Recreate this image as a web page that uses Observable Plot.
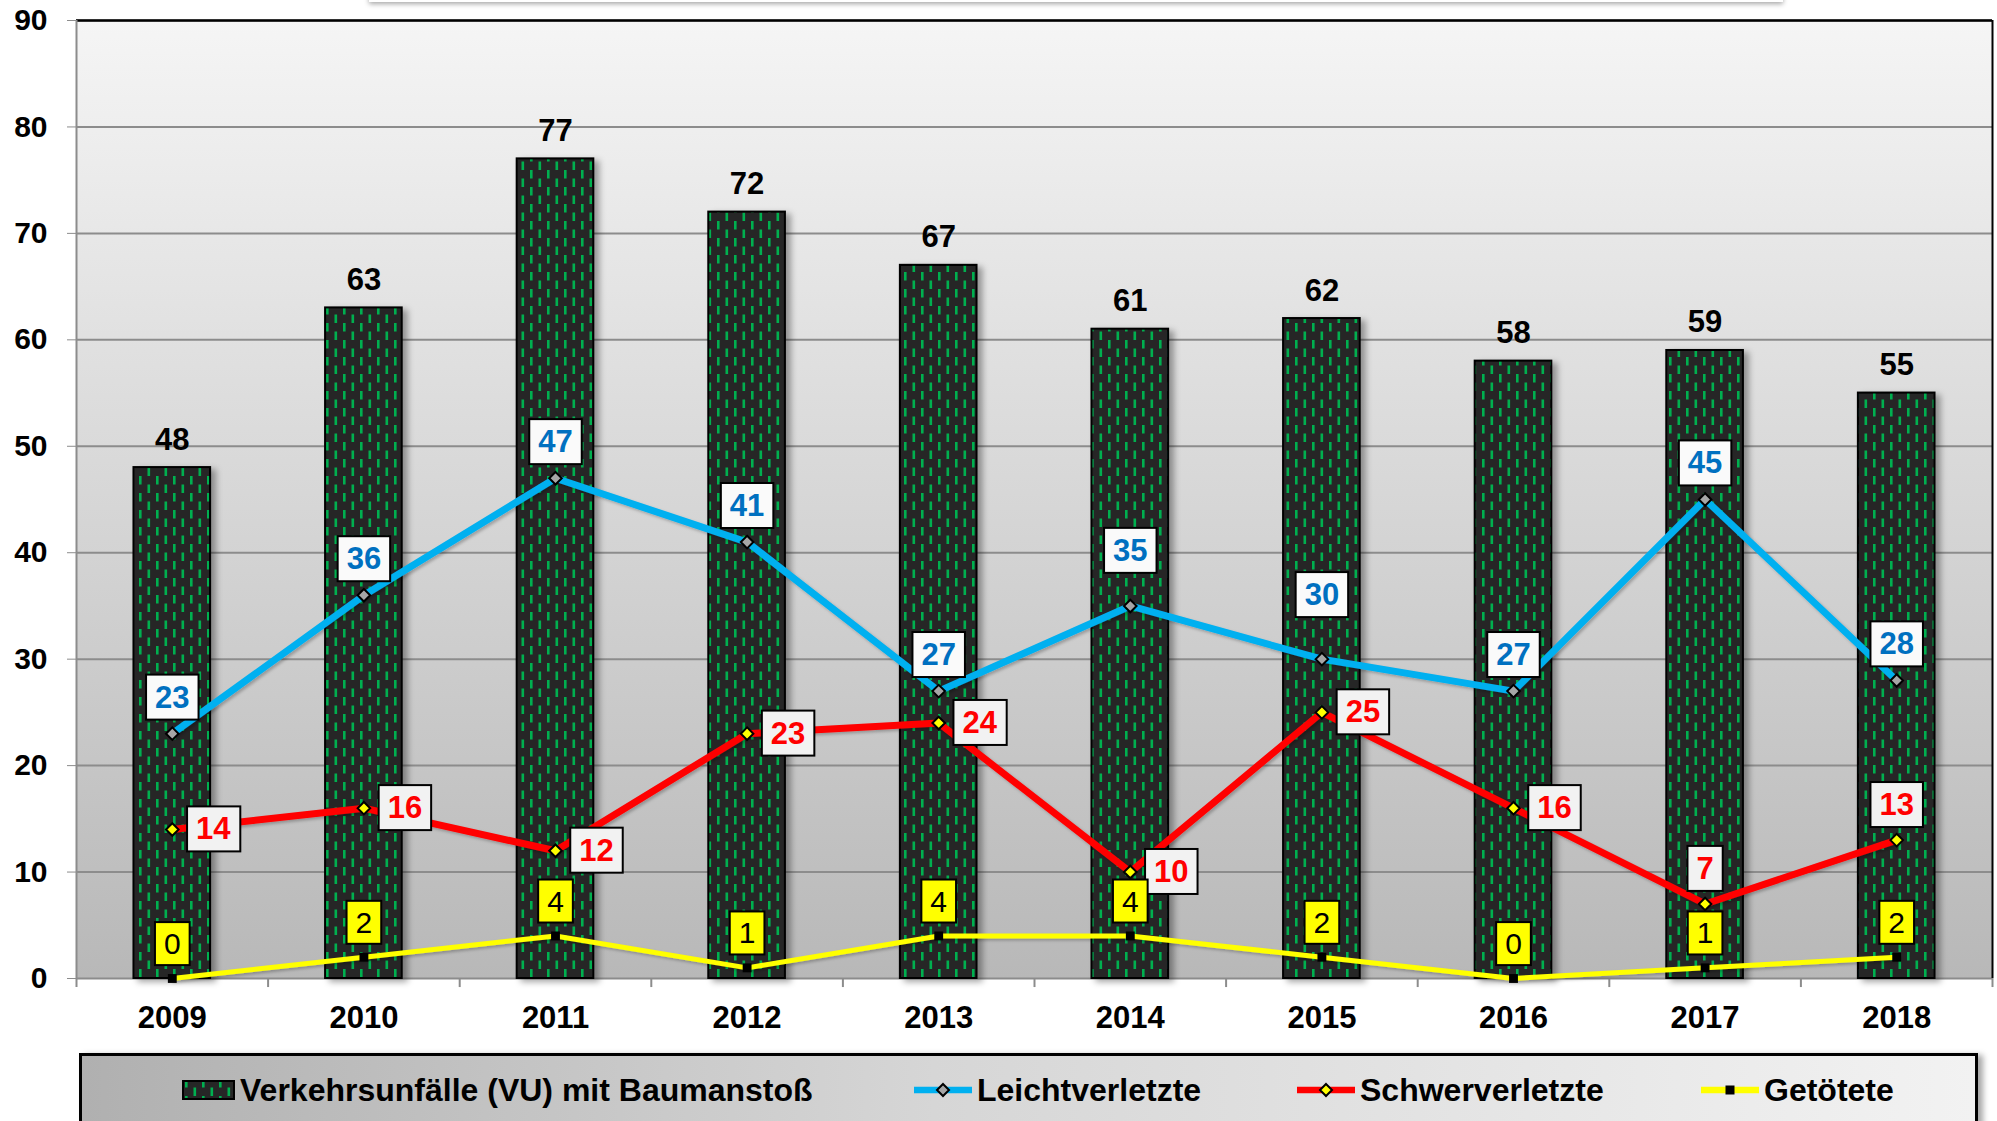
<!DOCTYPE html>
<html>
<head>
<meta charset="utf-8">
<script src="https://cdn.jsdelivr.net/npm/d3@7"></script>
<script src="https://cdn.jsdelivr.net/npm/@observablehq/plot@0.6"></script>
<style>
  html, body { margin: 0; padding: 0; background: #ffffff; }
  #wrap { position: relative; width: 1997px; height: 1121px; overflow: hidden; font-family: "Liberation Sans", Arial, sans-serif; }
  #titleShadow { position: absolute; left: 369px; width: 1414px; top: -14px; height: 16px; background: #ffffff; box-shadow: 0 2px 5px rgba(0,0,0,0.35); }
  #chart { position: absolute; left: 0; top: 0; }
  #legend { position: absolute; left: 79px; top: 1053px; width: 1899px; height: 110px; border: 3px solid #000; box-sizing: border-box;
            background: linear-gradient(to right, #b0b0b0, #d6d6d6 45%, #f2f2f2); box-shadow: 5px 2px 6px rgba(0,0,0,0.35); }
  .lg-item { position: absolute; top: 14px; height: 40px; display: flex; align-items: center; font-size: 32px; font-weight: bold; color: #000; white-space: nowrap; }
  .lg-item svg { margin-right: 5px; }
</style>
</head>
<body>
<div id="wrap">
  <div id="titleShadow"></div>
  <div id="chart"></div>
  <div id="legend"></div>
</div>
<script>
// ---------- data ----------
const years = ["2009", "2010", "2011", "2012", "2013", "2014", "2015", "2016", "2017", "2018"];
const unfaelle = [48, 63, 77, 72, 67, 61, 62, 58, 59, 55];
const leichtverletzte = [23, 36, 47, 41, 27, 35, 30, 27, 45, 28];
const schwerverletzte = [14, 16, 12, 23, 24, 10, 25, 16, 7, 13];
const getoetete = [0, 2, 4, 1, 4, 4, 2, 0, 1, 2];
const yTicks = [0, 10, 20, 30, 40, 50, 60, 70, 80, 90];
const seriesNames = ["Verkehrsunfälle (VU) mit Baumanstoß", "Leichtverletzte", "Schwerverletzte", "Getötete"];

const rows = years.map((year, i) => ({
  year,
  unfaelle: unfaelle[i],
  leicht: leichtverletzte[i],
  schwer: schwerverletzte[i],
  tot: getoetete[i]
}));

// ---------- layout / style ----------
const W = 1997, H = 1045, mL = 76, mR = 5, mT = 20, mB = 67;
const step = (W - mL - mR) / years.length;
const FONT = "Liberation Sans, Arial, sans-serif";
const BLUE = "#00b0f0", BLUE_TXT = "#0070c0", RED = "#ff0000", YEL = "#ffff00", GRID = "#8c8c8c";

const diamond = {
  draw(ctx, size) {
    const r = Math.sqrt(size / 2);
    ctx.moveTo(0, -r); ctx.lineTo(r, 0); ctx.lineTo(0, r); ctx.lineTo(-r, 0); ctx.closePath();
  }
};

// label placement (pixel offsets of boxes relative to the point)
const blueLift = {"2014": 55, "2015": 64};
const redAbove = new Set(["2017", "2018"]);

const lbl = {fontSize: 31, fontWeight: "bold", fontFamily: FONT};

const chart = Plot.plot({
  width: W, height: H,
  marginLeft: mL, marginRight: mR, marginTop: mT, marginBottom: mB,
  style: {fontFamily: FONT, fontSize: "31px", fontWeight: "bold", color: "#000", background: "transparent", overflow: "visible"},
  x: {domain: years, paddingInner: 0.6, paddingOuter: 0.3, round: false, tickSize: 0, tickPadding: 27, label: null},
  y: {domain: [0, 90], ticks: yTicks, tickSize: 9, tickPadding: 20, label: null},
  marks: [
    Plot.frame({fill: "url(#bgGrad)", stroke: "none"}),
    Plot.ruleY(yTicks, {stroke: GRID, strokeWidth: 2}),
    Plot.ruleY([90], {stroke: "#000", strokeWidth: 2.5}),
    Plot.ruleX([years[years.length - 1]], {dx: step / 2, y1: 0, y2: 90, stroke: "#000", strokeWidth: 2}),
    Plot.ruleX([years[0]], {dx: -step / 2, y1: -0.85, y2: 90, stroke: GRID, strokeWidth: 2}),
    Plot.ruleX(years, {dx: step / 2, y1: 0, y2: -0.85, stroke: GRID, strokeWidth: 2}),
    Plot.barY(rows, {x: "year", y: "unfaelle", fill: "url(#barPattern)", stroke: "#000", strokeWidth: 2, ariaDescription: "bars"}),
    Plot.text(rows, {x: "year", y: "unfaelle", text: d => String(d.unfaelle), dy: -18, lineAnchor: "bottom", fill: "#000", ...lbl}),
    Plot.line(rows, {x: "year", y: "tot", stroke: YEL, strokeWidth: 5, ariaDescription: "line-yellow"}),
    Plot.line(rows, {x: "year", y: "leicht", stroke: BLUE, strokeWidth: 7, ariaDescription: "line-blue"}),
    Plot.line(rows, {x: "year", y: "schwer", stroke: RED, strokeWidth: 7, ariaDescription: "line-red"}),
    Plot.dot(rows, {x: "year", y: "leicht", symbol: diamond, r: 5, fill: "#a6a6a6", stroke: "#000", strokeWidth: 2}),
    Plot.dot(rows, {x: "year", y: "schwer", symbol: diamond, r: 5, fill: YEL, stroke: "#000", strokeWidth: 2}),
    Plot.dot(rows, {x: "year", y: "tot", symbol: "square", r: 5, fill: "#000", stroke: "none"}),
    // blue labels
    Plot.text(rows.filter(d => !(d.year in blueLift)), {x: "year", y: "leicht", text: d => String(d.leicht), dy: -36, lineAnchor: "middle", fill: BLUE_TXT, ariaDescription: "box-blue", ...lbl}),
    ...Object.entries(blueLift).map(([yr, lift]) =>
      Plot.text(rows.filter(d => d.year === yr), {x: "year", y: "leicht", text: d => String(d.leicht), dy: -lift, lineAnchor: "middle", fill: BLUE_TXT, ariaDescription: "box-blue", ...lbl})),
    // red labels
    Plot.text(rows.filter(d => !redAbove.has(d.year)), {x: "year", y: "schwer", text: d => String(d.schwer), dx: 41, lineAnchor: "middle", fill: RED, ariaDescription: "box-red", ...lbl}),
    Plot.text(rows.filter(d => redAbove.has(d.year)), {x: "year", y: "schwer", text: d => String(d.schwer), dy: -35, lineAnchor: "middle", fill: RED, ariaDescription: "box-red", ...lbl}),
    // yellow labels
    Plot.text(rows, {x: "year", y: "tot", text: d => String(d.tot), dy: -34, lineAnchor: "middle", fill: "#000", ariaDescription: "box-yellow", fontSize: 30, fontWeight: "normal", fontFamily: FONT})
  ]
});

document.getElementById("chart").appendChild(chart);

// ---------- defs: gradient, pattern, shadow ----------
const svg = d3.select(chart);
const defs = svg.insert("defs", ":first-child");
const bg = defs.append("linearGradient").attr("id", "bgGrad").attr("x1", 0).attr("y1", 0).attr("x2", 0).attr("y2", 1);
bg.append("stop").attr("offset", "0%").attr("stop-color", "#f5f5f5");
bg.append("stop").attr("offset", "100%").attr("stop-color", "#b8b8b8");

function addPattern(d, id) {
  const p = d.append("pattern").attr("id", id).attr("patternUnits", "userSpaceOnUse").attr("width", 17).attr("height", 17);
  p.append("rect").attr("width", 17).attr("height", 17).attr("fill", "#262626");
  p.append("rect").attr("x", 3).attr("y", 0).attr("width", 2.6).attr("height", 8.5).attr("fill", "#00b050");
  p.append("rect").attr("x", 11.5).attr("y", 8.5).attr("width", 2.6).attr("height", 8.5).attr("fill", "#00b050");
}
addPattern(defs, "barPattern");

const sh = defs.append("filter").attr("id", "shadow").attr("x", "-20%").attr("y", "-20%").attr("width", "150%").attr("height", "150%");
sh.append("feDropShadow").attr("dx", 5).attr("dy", 3).attr("stdDeviation", 3).attr("flood-color", "#000").attr("flood-opacity", 0.35);
const sh2 = defs.append("filter").attr("id", "shadowSoft").attr("filterUnits", "userSpaceOnUse")
  .attr("x", 0).attr("y", 0).attr("width", W).attr("height", H);
sh2.append("feDropShadow").attr("dx", 2).attr("dy", 2).attr("stdDeviation", 1.5).attr("flood-color", "#000").attr("flood-opacity", 0.25);

svg.selectAll('g[aria-description="bars"]').attr("filter", "url(#shadow)");
svg.selectAll('g[aria-description^="line-"]').attr("filter", "url(#shadowSoft)");

// y-axis: gray ticks, 30px labels
svg.selectAll('g[aria-label="y-axis tick"]').attr("stroke", GRID).selectAll("path").attr("stroke", GRID);
svg.selectAll('g[aria-label="y-axis"] line').attr("stroke", GRID);
svg.selectAll('g[aria-label="y-axis tick label"], g[aria-label="y-axis"]').attr("font-size", 30);
svg.selectAll('g[aria-label="y-axis"] text').attr("font-size", 30);

// ---------- label boxes ----------
const boxStyles = {"box-blue": "#fafafa", "box-red": "#f2f2f2", "box-yellow": YEL};
Object.entries(boxStyles).forEach(([name, fill]) => {
  svg.selectAll(`g[aria-description="${name}"] text`).each(function () {
    const b = this.getBBox();
    const padX = 9, padY = 5;
    const r = d3.select(this.parentNode).insert("rect", () => this)
      .attr("x", b.x - padX).attr("y", b.y - padY)
      .attr("width", b.width + 2 * padX).attr("height", b.height + 2 * padY)
      .attr("fill", fill).attr("stroke", "#000").attr("stroke-width", 2);
    const t = this.getAttribute("transform");
    if (t) r.attr("transform", t);
  });
});

// ---------- legend ----------
const legend = d3.select("#legend");
const legendItems = [
  {name: seriesNames[0], left: 100, kind: "bar"},
  {name: seriesNames[1], left: 832, kind: "line", stroke: BLUE, marker: "diamond", mfill: "#a6a6a6"},
  {name: seriesNames[2], left: 1215, kind: "line", stroke: RED, marker: "diamond", mfill: YEL},
  {name: seriesNames[3], left: 1619, kind: "line", stroke: YEL, marker: "square", mfill: "#000"}
];
legendItems.forEach((it, k) => {
  const item = legend.append("div").attr("class", "lg-item").style("left", it.left + "px");
  if (it.kind === "bar") {
    const s = item.append("svg").attr("width", 53).attr("height", 22);
    addPattern(s.append("defs"), "lgPattern" + k);
    s.append("rect").attr("x", 1).attr("y", 2).attr("width", 51).attr("height", 18)
      .attr("fill", `url(#lgPattern${k})`).attr("stroke", "#000").attr("stroke-width", 2);
  } else {
    const s = item.append("svg").attr("width", 58).attr("height", 22);
    s.append("line").attr("x1", 0).attr("x2", 58).attr("y1", 11).attr("y2", 11).attr("stroke", it.stroke).attr("stroke-width", 6.5);
    if (it.marker === "diamond") {
      s.append("path").attr("d", "M29,5L35,11L29,17L23,11Z").attr("fill", it.mfill).attr("stroke", "#000").attr("stroke-width", 2);
    } else {
      s.append("rect").attr("x", 24.5).attr("y", 6.5).attr("width", 9).attr("height", 9).attr("fill", it.mfill);
    }
  }
  item.append("span").text(it.name);
});
</script>
</body>
</html>
